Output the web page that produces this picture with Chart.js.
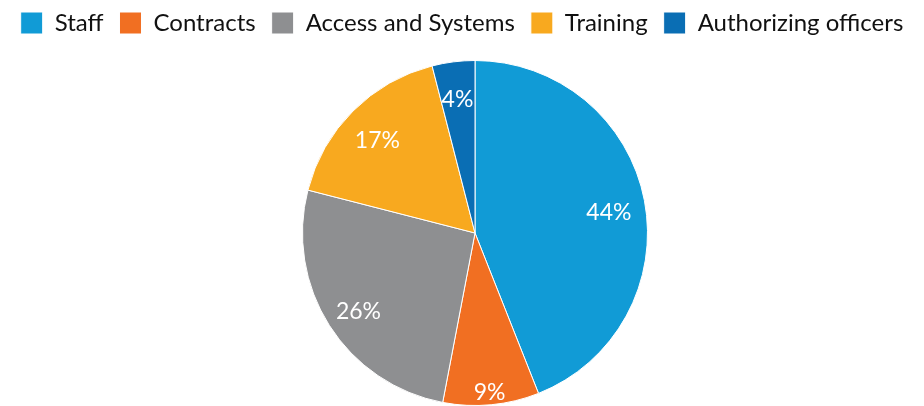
<!DOCTYPE html>
<html>
<head>
<meta charset="utf-8">
<script src="https://cdn.jsdelivr.net/npm/chart.js@4"></script>
<style>
  html, body { margin: 0; padding: 0; background: #fff; }
  #wrap { width: 924px; height: 406px; }
</style>
</head>
<body>
<div id="wrap"><canvas id="pie" width="924" height="406"></canvas></div>
<script>
// chart data
const categories = ['Staff', 'Contracts', 'Access and Systems', 'Training', 'Authorizing officers'];
const shares = [44, 9, 26, 17, 4];
const sliceColors = ['#119bd6', '#f16f22', '#8e8f91', '#f8a91f', '#0a6eb4'];

// draws the white percent labels inside each slice
const sliceLabels = {
  id: 'sliceLabels',
  afterDatasetsDraw(chart, args, opts) {
    const c = chart.ctx;
    const meta = chart.getDatasetMeta(0);
    c.save();
    c.fillStyle = '#ffffff';
    c.font = '23px Lato, "Open Sans", sans-serif';
    c.textAlign = 'center';
    c.textBaseline = 'middle';
    meta.data.forEach((arc, i) => {
      const mid = (arc.startAngle + arc.endAngle) / 2;
      const r = arc.outerRadius * (opts.radius[i] || 0.8);
      c.fillText(shares[i] + '%', arc.x + Math.cos(mid) * r, arc.y + Math.sin(mid) * r + opts.dy);
    });
    c.restore();
  }
};

// legend keeps the full width, the pie is nudged right/down and the legend up
const shiftPie = {
  id: 'shiftPie',
  afterLayout(chart, args, opts) {
    const area = chart.chartArea;
    area.left += opts.left;
    area.width -= opts.left;
    area.top += opts.top;
    area.height -= opts.top;
    chart.legend.top -= opts.legendUp;
    chart.legend.bottom -= opts.legendUp;
  }
};

const ctx = document.getElementById('pie').getContext('2d');
new Chart(ctx, {
  type: 'pie',
  data: {
    labels: categories,
    datasets: [{
      data: shares,
      backgroundColor: sliceColors,
      borderColor: '#ffffff',
      borderWidth: 1
    }]
  },
  options: {
    responsive: false,
    animation: false,
    layout: { padding: 0 },
    plugins: {
      legend: {
        position: 'top',
        labels: {
          boxWidth: 22,
          boxHeight: 22,
          padding: 16,
          color: '#111',
          font: { family: 'Lato, "Open Sans", sans-serif', size: 24 }
        }
      },
      tooltip: { enabled: false },
      shiftPie: { left: 26, top: 10, legendUp: 5 },
      sliceLabels: { radius: [0.79, 0.9, 0.8, 0.8, 0.81], dy: 5 }
    }
  },
  plugins: [sliceLabels, shiftPie]
});
</script>
</body>
</html>
